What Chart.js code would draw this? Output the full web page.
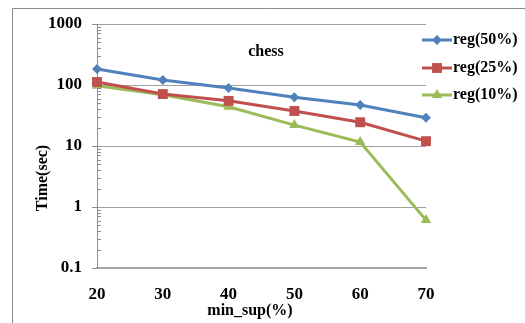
<!DOCTYPE html>
<html>
<head>
<meta charset="utf-8">
<script src="https://cdn.jsdelivr.net/npm/chart.js@4.4.1/dist/chart.umd.min.js"></script>
<style>
  html, body { margin: 0; padding: 0; background: #fff; }
  #wrap { width: 525px; height: 323px; position: relative; }
</style>
</head>
<body>
<div id="wrap"><canvas id="c" width="525" height="323"></canvas></div>
<script>
// ── Données ─────────────────────────────────────────────
const MIN_SUP  = ["20", "30", "40", "50", "60", "70"];
const REG_50   = [183, 121, 89, 63, 47, 29];
const REG_25   = [112, 71, 55, 37.5, 24.5, 12];
const REG_10   = [97, 69, 44, 22, 11.6, 0.61];
const Y_TICKS  = [0.1, 1, 10, 100, 1000];
const SERIES_NAMES = ["reg(50%)", "reg(25%)", "reg(10%)"];

const COLORS = ["#4f81bd", "#c0504d", "#9bbb59"];
const STYLES = ["rectRot", "rect", "triangle"];
const RADII  = [5, 7, 6];
const SERIF  = "'Liberation Serif', 'Times New Roman', serif";

function makeLine(label, data, i) {
  return {
    label, data,
    borderColor: COLORS[i],
    backgroundColor: COLORS[i],
    borderWidth: 3,
    pointStyle: STYLES[i],
    pointRadius: RADII[i],
    pointHoverRadius: RADII[i],
    pointBorderWidth: 0,
    tension: 0,
  };
}

// ── Décor : cadre, titres, graduations mineures, légende ─
const decor = {
  id: "decor",
  beforeDraw(chart) {
    const ctx = chart.ctx;
    ctx.save();
    ctx.strokeStyle = "#8c8c8c";
    ctx.lineWidth = 1;
    ctx.beginPath();
    ctx.moveTo(12.5, 323);
    ctx.lineTo(12.5, 8.5);
    ctx.lineTo(525, 8.5);
    ctx.stroke();
    ctx.restore();
  },
  afterDraw(chart) {
    const ctx = chart.ctx;
    const y = chart.scales.y;
    const area = chart.chartArea;
    ctx.save();

    // minor ticks
    ctx.strokeStyle = "#8c8c8c";
    ctx.lineWidth = 1;
    ctx.beginPath();
    for (let d = 0; d < Y_TICKS.length - 1; d++) {
      for (let k = 2; k <= 9; k++) {
        const py = Math.round(y.getPixelForValue(Y_TICKS[d] * k)) + 0.5;
        ctx.moveTo(area.left, py);
        ctx.lineTo(area.left + 4, py);
      }
    }
    ctx.stroke();

    // titles
    ctx.fillStyle = "#000";
    ctx.font = "bold 16px " + SERIF;
    ctx.textAlign = "center";
    ctx.textBaseline = "middle";
    ctx.fillText("chess", 266, 52);
    ctx.fillText("min_sup(%)", 250, 311);
    ctx.save();
    ctx.translate(43, 178);
    ctx.rotate(-Math.PI / 2);
    ctx.fillText("Time(sec)", 0, 0);
    ctx.restore();

    // legend
    const rows = [40, 68, 95];
    ctx.textAlign = "left";
    SERIES_NAMES.forEach((name, i) => {
      const ly = rows[i];
      ctx.strokeStyle = COLORS[i];
      ctx.lineWidth = 3;
      ctx.beginPath();
      ctx.moveTo(422, ly);
      ctx.lineTo(452, ly);
      ctx.stroke();
      ctx.fillStyle = COLORS[i];
      Chart.helpers.drawPoint(ctx, { pointStyle: STYLES[i], radius: RADII[i], borderWidth: 0 }, 437, ly);
      ctx.fillStyle = "#000";
      ctx.fillText(name, 453, ly);
    });
    ctx.restore();
  },
};

new Chart(document.getElementById("c"), {
  type: "line",
  data: {
    labels: MIN_SUP,
    datasets: [
      makeLine(SERIES_NAMES[0], REG_50, 0),
      makeLine(SERIES_NAMES[1], REG_25, 1),
      makeLine(SERIES_NAMES[2], REG_10, 2),
    ],
  },
  options: {
    responsive: false,
    animation: false,
    devicePixelRatio: 1,
    layout: { padding: { left: 0, top: 24, right: 99, bottom: 0 } },
    plugins: { legend: { display: false }, tooltip: { enabled: false } },
    scales: {
      x: {
        type: "category",
        offset: false,
        grid: { display: false, drawTicks: false },
        border: { display: true, color: "#a6a6a6", width: 2 },
        ticks: { color: "#000", padding: 16, font: { family: SERIF, size: 17, weight: "bold" } },
        afterFit(s) { s.height = 55; },
      },
      y: {
        type: "logarithmic",
        min: 0.1,
        max: 1000,
        afterBuildTicks(s) { s.ticks = Y_TICKS.map(v => ({ value: v, major: true })); },
        grid: { color: "#a0a0a0", lineWidth: 1, tickLength: 5, tickColor: "#8c8c8c" },
        border: { display: true, color: "#8c8c8c", width: 1 },
        ticks: {
          color: "#000",
          padding: 10,
          font: { family: SERIF, size: 17, weight: "bold" },
          callback: v => String(v),
        },
        afterFit(s) { s.width = 97; },
      },
    },
  },
  plugins: [decor],
});
</script>
</body>
</html>
